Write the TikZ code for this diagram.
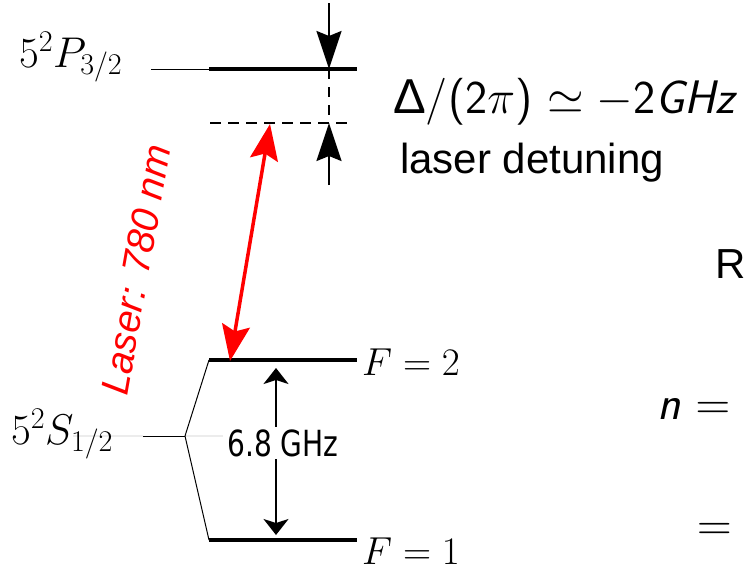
\RequirePackage{fix-cm}
\documentclass[tikz,border=0pt]{standalone}
\usepackage{fontspec}
\newfontfamily\lib{Liberation Sans}
\newfontfamily\cond[FakeStretch=0.78]{DejaVu Sans}
\usetikzlibrary{arrows.meta}
\tikzset{
  txt/.style={inner sep=0pt, anchor=base west},
  mathlbl/.style={txt, font=\fontsize{39}{46}\selectfont},
  statelbl/.style={txt, font=\fontsize{43}{50}\selectfont},
  level/.style={line width=4pt},
  thinline/.style={line width=1pt},
  bighead/.tip={Stealth[length=38pt,width=25pt,inset=5pt]},
  redhead/.tip={Stealth[length=36pt,width=28pt,inset=6pt]},
  smallhead/.tip={Stealth[length=16pt,width=25pt,inset=4pt]},
  dashlev/.style={line width=2pt, dash pattern=on 11pt off 7pt},
}
\begin{document}
\begin{tikzpicture}[x=1pt,y=-1pt]
\useasboundingbox (0,0) rectangle (746,563);
% coordinates
\coordinate (P0) at (151,69);
\coordinate (P1) at (209,69);
\coordinate (P2) at (357,69);
\coordinate (D1) at (210,123);
\coordinate (D2) at (350,123);
\coordinate (S0) at (73,436);
\coordinate (S1) at (143,436);
\coordinate (Sb) at (185,436);
\coordinate (S3) at (223,436);
\coordinate (F2a) at (209,360);
\coordinate (F2b) at (357,360);
\coordinate (F1a) at (209,540);
\coordinate (F1b) at (357,540);
\coordinate (T0) at (329,3);
\coordinate (T1) at (329,69);
\coordinate (B1) at (329,123);
\coordinate (B0) at (329,185);
\coordinate (Rb) at (230,361);
\coordinate (Rt) at (270,124);
\coordinate (Ga) at (276,368);
\coordinate (Gb) at (276,535);

% S level with branches
\draw[gray!15, line width=1.5pt] (S0) -- (S1);
\draw[gray!15, line width=1.5pt] (Sb) -- (S3);
\draw[thinline] (S1) -- (Sb);
\draw[thinline] (Sb) -- (F2a);
\draw[thinline] (Sb) -- (F1a);

% P level
\draw[thinline] (P0) -- (P1);
\draw[level] (P1) -- (P2);
\draw[dashlev] (D1) -- (D2);

% hyperfine levels
\draw[level] (F2a) -- (F2b);
\draw[level] (F1a) -- (F1b);

% detuning marker
\draw[line width=2.2pt, -{bighead}] (T0) -- (T1);
\draw[line width=2.2pt, dash pattern=on 10pt off 8pt] (T1) -- (B1);
\draw[line width=2.2pt, -{bighead}] (B0) -- (B1);

% laser arrow
\draw[red, line width=3.5pt, {redhead}-{redhead}] (Rb) -- (Rt);
\node[red, inner sep=0pt, rotate=80, font=\lib\itshape\fontsize{39}{46}\selectfont] (laser) at (136,270) {Laser: 780 nm};

% 6.8 GHz
\draw[line width=1.8pt, {smallhead}-{smallhead}] (Ga) -- (Gb);
\node[fill=white, inner sep=2pt, font=\cond\fontsize{36}{42}\selectfont] (hf) at (283,443) {6.8 GHz};

% labels
\node[statelbl] (lp) at (19,67) {$5^2P_{3/2}$};
\node[statelbl] (ls) at (11,444) {$5^2S_{1/2}$};
\node[mathlbl] (lf2) at (362,375) {$F=2$};
\node[mathlbl] (lf1) at (362,564) {$F=1$};

\node[txt, font=\sffamily\fontsize{47}{56}\selectfont] (det) at (393,113) {{\lib\fontsize{49}{56}\selectfont Δ}/(2$\pi$) $\simeq -$2\textit{GHz}};
\node[txt, font=\lib\fontsize{42}{50}\selectfont] (ld) at (400,173) {laser detuning};
\node[txt, font=\lib\fontsize{42}{50}\selectfont] (r) at (715,278) {R};
\node[txt, font=\sffamily\fontsize{48}{58}\selectfont] (n) at (657,419) {\textit{n} $=$};
\node[txt, font=\sffamily\fontsize{48}{58}\selectfont] (eq) at (697,540) {$=$};
\end{tikzpicture}
\end{document}
